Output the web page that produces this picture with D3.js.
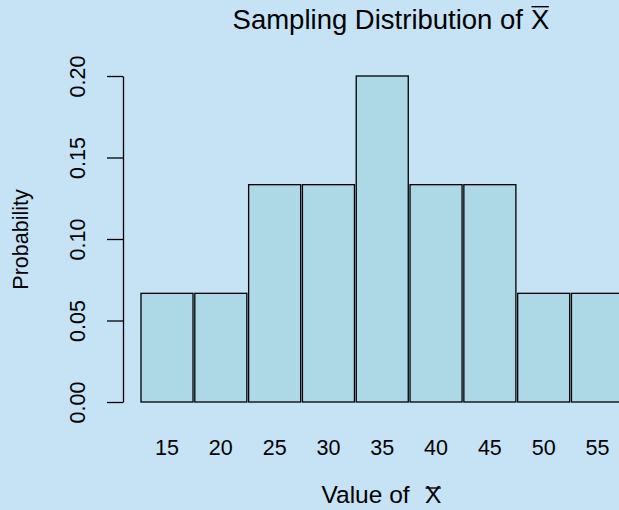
<!DOCTYPE html>
<html>
<head>
<meta charset="utf-8">
<script src="https://cdn.jsdelivr.net/npm/d3@7"></script>
<style>
  html, body { margin: 0; padding: 0; background: #c6e2f5; }
  svg { display: block; font-family: "Liberation Sans", Arial, sans-serif; }
</style>
</head>
<body>
<svg id="chart" width="619" height="510"></svg>
<script>
// Sample means and their probabilities (counts out of 15 samples)
const categories = ["15", "20", "25", "30", "35", "40", "45", "50", "55"];
const probabilities = [1/15, 1/15, 2/15, 2/15, 3/15, 2/15, 2/15, 1/15, 1/15];
const yTicks = [0, 0.05, 0.10, 0.15, 0.20];

const svg = d3.select("#chart");
const W = 619, H = 510;
const labelSize = 21.5;
const xTitleSize = 24.5;
const titleSize = 27.5;

svg.append("rect").attr("width", W).attr("height", H).attr("fill", "#c6e2f5");

const x = d3.scaleBand()
  .domain(categories)
  .range([141, 623.5])
  .paddingInner(0.033)
  .paddingOuter(0);

const y = d3.scaleLinear().domain([0, 0.2]).range([402, 76]);

// bars
svg.append("g").selectAll("rect")
  .data(categories)
  .join("rect")
  .attr("x", d => x(d))
  .attr("y", (d, i) => y(probabilities[i]))
  .attr("width", x.bandwidth())
  .attr("height", (d, i) => y(0) - y(probabilities[i]))
  .attr("fill", "#add8e6")
  .attr("stroke", "#000")
  .attr("stroke-width", 1.3);

// y axis
const yAxis = svg.append("g")
  .attr("transform", "translate(123,0)")
  .call(d3.axisLeft(y).tickValues(yTicks).tickFormat(d3.format(".2f")).tickSize(16).tickSizeOuter(0).tickPadding(0));
yAxis.select(".domain").attr("stroke", "#000").attr("stroke-width", 1.3);
yAxis.selectAll(".tick line").attr("stroke", "#000").attr("stroke-width", 1.3);
yAxis.selectAll(".tick text")
  .attr("x", 0).attr("y", 0).attr("dy", null)
  .attr("transform", "translate(-38,0) rotate(-90)")
  .attr("text-anchor", "middle")
  .attr("fill", "#000")
  .style("font-size", labelSize + "px")
  .style("font-family", "'Liberation Sans', Arial, sans-serif");

// category labels under bars
svg.append("g").selectAll("text")
  .data(categories)
  .join("text")
  .attr("x", d => x(d) + x.bandwidth() / 2)
  .attr("y", 455)
  .attr("text-anchor", "middle")
  .attr("fill", "#000")
  .style("font-size", labelSize + "px")
  .text(d => d);

// an X with a bar over it (the sample mean symbol)
function xBar(parent, left, baseline, size, barY) {
  const t = parent.append("text")
    .attr("x", left).attr("y", baseline)
    .attr("fill", "#000")
    .style("font-size", size + "px")
    .text("X");
  const box = t.node().getBBox();
  parent.append("line")
    .attr("x1", box.x + 0.5).attr("x2", box.x + box.width - 0.5)
    .attr("y1", barY).attr("y2", barY)
    .attr("stroke", "#000").attr("stroke-width", 1.4);
}

// title
svg.append("text")
  .attr("x", 523).attr("y", 29)
  .attr("text-anchor", "end")
  .attr("fill", "#000")
  .style("font-size", titleSize + "px")
  .text("Sampling Distribution of");
xBar(svg, 531, 29, titleSize, 6.7);

// x axis title
svg.append("text")
  .attr("x", 321.5).attr("y", 503)
  .attr("fill", "#000")
  .style("font-size", xTitleSize + "px")
  .text("Value of");
xBar(svg, 425, 503, xTitleSize, 488);

// y axis title
svg.append("text")
  .attr("transform", "translate(28,239.5) rotate(-90)")
  .attr("text-anchor", "middle")
  .attr("fill", "#000")
  .style("font-size", labelSize + "px")
  .text("Probability");
</script>
</body>
</html>
